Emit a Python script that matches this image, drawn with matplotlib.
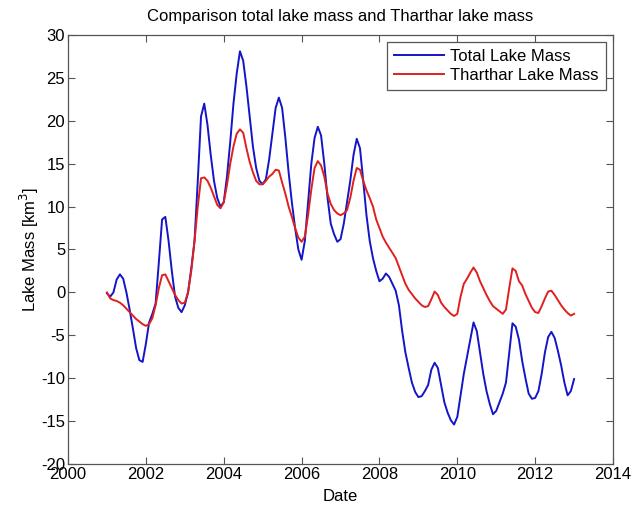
import numpy as np
import matplotlib
matplotlib.use("Agg")
import matplotlib.pyplot as plt

plt.rcParams['font.family'] = ['Liberation Sans', 'DejaVu Sans']
plt.rcParams['axes.unicode_minus'] = False

# monthly values, Jan 2001 .. Jan 2013
total_mass = [
    -0.1, -0.5, 0.0, 1.5, 2.1, 1.6, 0.0, -2.0, -4.2, -6.5, -7.9, -8.1,
    -6.0, -3.5, -2.5, -1.3, 3.5, 8.5, 8.8, 6.0, 2.5, -0.5, -1.8, -2.3,
    -1.5, 0.0, 2.8, 6.0, 13.0, 20.5, 22.0, 19.5, 16.0, 13.0, 11.0, 10.0,
    10.5, 13.5, 17.5, 22.0, 25.5, 28.1, 27.0, 24.0, 20.5, 17.0, 14.5, 13.0,
    12.6, 13.2, 15.5, 18.5, 21.5, 22.7, 21.5, 18.0, 14.0, 10.5, 7.5, 5.0,
    3.8, 6.0, 10.5, 15.0, 18.0, 19.3, 18.3, 15.0, 11.0, 8.0, 6.8, 5.9,
    6.2, 8.0, 10.5, 13.0, 16.0, 17.9, 16.8, 13.0, 9.0, 6.0, 4.0, 2.5,
    1.3, 1.6, 2.2, 1.8, 1.0, 0.2, -1.5, -4.5, -7.0, -8.8, -10.5, -11.6,
    -12.2, -12.1, -11.5, -10.8, -9.0, -8.2, -8.8, -10.8, -12.8, -14.0, -14.9, -15.4,
    -14.5, -12.0, -9.5, -7.5, -5.5, -3.5, -4.5, -7.0, -9.5, -11.5, -13.0, -14.2,
    -13.8, -12.8, -11.8, -10.5, -7.0, -3.6, -4.0, -5.5, -8.0, -10.0, -11.8, -12.4,
    -12.3, -11.5, -9.5, -7.0, -5.2, -4.6, -5.3, -6.8, -8.5, -10.5, -12.0, -11.5,
    -10.1,
]
tharthar_mass = [
    0.0, -0.7, -0.9, -1.0, -1.2, -1.5, -1.9, -2.3, -2.7, -3.1, -3.4, -3.7,
    -3.9, -3.7, -3.0, -1.5, 0.5, 2.0, 2.1, 1.3, 0.5, -0.3, -0.9, -1.3,
    -1.2, 0.0, 2.5, 6.0, 10.0, 13.3, 13.4, 13.0, 12.2, 11.2, 10.2, 9.8,
    10.5, 12.5, 15.0, 17.0, 18.5, 19.0, 18.6, 16.8, 15.2, 14.0, 13.0, 12.6,
    12.6, 13.0, 13.5, 13.8, 14.3, 14.2, 12.8, 11.5, 10.0, 8.8, 7.5, 6.4,
    5.9, 6.5, 9.0, 12.0, 14.5, 15.3, 14.8, 13.5, 11.5, 10.3, 9.6, 9.2,
    9.0, 9.2, 9.6, 11.0, 13.0, 14.5, 14.3, 13.0, 11.9, 11.0, 10.0, 8.5,
    7.5, 6.5, 5.8, 5.2, 4.6, 4.0, 3.0, 2.0, 1.0, 0.3, -0.2, -0.7,
    -1.1, -1.5, -1.7, -1.6, -0.8, 0.1, -0.3, -1.2, -1.7, -2.1, -2.5, -2.75,
    -2.5, -0.5, 1.0, 1.6, 2.3, 2.9, 2.3, 1.3, 0.5, -0.3, -1.0, -1.6,
    -1.9, -2.2, -2.5, -2.0, 0.5, 2.8, 2.5, 1.3, 0.8, -0.2, -1.0, -1.8,
    -2.3, -2.4, -1.6, -0.7, 0.1, 0.2, -0.3, -0.9, -1.5, -2.0, -2.4, -2.7,
    -2.5,
]
dates = 2001 + np.arange(len(total_mass)) / 12.0

fig = plt.figure(figsize=(6.32, 5.07), dpi=100)
ax = fig.add_axes([0.1076, 0.0848, 0.8624, 0.8462])

ax.plot(dates, total_mass, color='#1414c8', lw=1.4, label='Total Lake Mass')
ax.plot(dates, tharthar_mass, color='#e0201e', lw=1.4, label='Tharthar Lake Mass')

ax.set_xlim(2000, 2014)
ax.set_ylim(-20, 30)
ax.set_xticks(np.arange(2000, 2015, 2))
ax.set_yticks(np.arange(-20, 31, 5))
ax.tick_params(direction='in', top=True, right=True, length=5, width=0.8,
               color='#555555', labelsize=12, pad=2)
for s in ax.spines.values():
    s.set_color('#555555')
    s.set_linewidth(0.9)

ax.set_title('Comparison total lake mass and Tharthar lake mass', fontsize=12, pad=10)
ax.set_xlabel('Date', fontsize=12, labelpad=5)
ax.set_ylabel('Lake Mass [km$^3$]', fontsize=12, labelpad=0)

leg = ax.legend(loc='upper right', fontsize=12, fancybox=False, framealpha=1,
                edgecolor='#555555', handlelength=3.0, borderaxespad=0.45,
                borderpad=0.4, labelspacing=0.25, handletextpad=0.4)
leg.get_frame().set_linewidth(0.9)

fig.savefig('out.png', dpi=100)
